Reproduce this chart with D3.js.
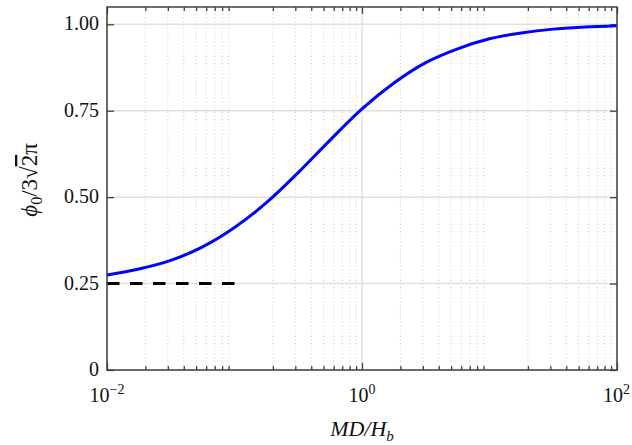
<!DOCTYPE html>
<html>
<head>
<meta charset="utf-8">
<script src="https://cdn.jsdelivr.net/npm/d3@7"></script>
<style>
  body { margin: 0; background: #fff; }
</style>
</head>
<body>
<svg class="chart" width="632" height="445" font-family="'Liberation Serif', 'Times New Roman', 'DejaVu Serif', serif"></svg>
<script>
// values
const mdOverHb = [0.01, 0.0178, 0.0316, 0.0562, 0.1, 0.178, 0.316, 0.562, 1, 1.78, 3.16, 5.62, 10, 17.8, 31.6, 56.2, 100]
const phiRatio = [0.275, 0.292, 0.317, 0.356, 0.412, 0.484, 0.571, 0.665, 0.755, 0.83, 0.889, 0.929, 0.958, 0.975, 0.986, 0.992, 0.996]
const limitX = [0.01, 0.1]
const limitY = [0.25, 0.25]
const yTicks = [0, 0.25, 0.5, 0.75, 1]
const yTickLabels = ['0', '0.25', '0.50', '0.75', '1.00']
const xTicks = [0.01, 1, 100]
const xTickExp = ['\u22122', '0', '2']

const serif = "'Liberation Serif', 'Times New Roman', 'DejaVu Serif', serif"
const svg = d3.select('.chart')
const margin = {left: 107, right: 15, top: 7, bottom: 75}
const width = +svg.attr('width')
const height = +svg.attr('height')

const x = d3.scaleLog().domain([0.01, 100]).range([margin.left, width - margin.right])
const y = d3.scaleLinear().domain([0, 1.05]).range([height - margin.bottom, margin.top])

// minor ticks 2..9 in each decade
const minorX = []
for (let e = -2; e < 2; e++) {
  for (let k = 2; k <= 9; k++) minorX.push(k * Math.pow(10, e))
}

const grid = svg.append('g')
grid.selectAll('.minor')
  .data(minorX)
  .join('line')
  .attr('x1', d => x(d)).attr('x2', d => x(d))
  .attr('y1', y(1.05)).attr('y2', y(0))
  .attr('stroke', '#c8c8c8')
  .attr('stroke-width', 1)
  .attr('stroke-dasharray', '1,2.5')

grid.selectAll('.majx')
  .data(xTicks)
  .join('line')
  .attr('x1', d => x(d)).attr('x2', d => x(d))
  .attr('y1', y(1.05)).attr('y2', y(0))
  .attr('stroke', '#e0e0e0')
  .attr('stroke-width', 1.5)

grid.selectAll('.majy')
  .data(yTicks)
  .join('line')
  .attr('x1', x(0.01)).attr('x2', x(100))
  .attr('y1', d => y(d)).attr('y2', d => y(d))
  .attr('stroke', '#e0e0e0')
  .attr('stroke-width', 1.5)

// axes, ticks pointing inward
const axisColor = '#404040'
function styleAxis(g) {
  g.select('.domain').remove()
  g.selectAll('.tick line').attr('stroke', axisColor).attr('stroke-width', 1.3)
  g.selectAll('.tick text').remove()
}
svg.append('g').attr('transform', `translate(0,${y(0)})`)
  .call(d3.axisBottom(x).tickValues(minorX).tickSize(-4)).call(styleAxis)
svg.append('g').attr('transform', `translate(0,${y(0)})`)
  .call(d3.axisBottom(x).tickValues(xTicks).tickSize(-7)).call(styleAxis)
svg.append('g').attr('transform', `translate(0,${y(1.05)})`)
  .call(d3.axisTop(x).tickValues(minorX).tickSize(-4)).call(styleAxis)
svg.append('g').attr('transform', `translate(0,${y(1.05)})`)
  .call(d3.axisTop(x).tickValues(xTicks).tickSize(-7)).call(styleAxis)
svg.append('g').attr('transform', `translate(${x(0.01)},0)`)
  .call(d3.axisLeft(y).tickValues(yTicks).tickSize(-7)).call(styleAxis)
svg.append('g').attr('transform', `translate(${x(100)},0)`)
  .call(d3.axisRight(y).tickValues(yTicks).tickSize(-7)).call(styleAxis)

// lines
const line = d3.line().x(d => x(d[0])).y(d => y(d[1])).curve(d3.curveMonotoneX)
svg.append('path')
  .attr('d', line(d3.zip(limitX, limitY)))
  .attr('fill', 'none')
  .attr('stroke', '#000')
  .attr('stroke-width', 3)
  .attr('stroke-dasharray', '12.5,10.5')

svg.append('path')
  .attr('d', line(d3.zip(mdOverHb, phiRatio)))
  .attr('fill', 'none')
  .attr('stroke', '#0000ff')
  .attr('stroke-width', 3)

// box
svg.append('rect')
  .attr('x', x(0.01)).attr('y', y(1.05))
  .attr('width', x(100) - x(0.01)).attr('height', y(0) - y(1.05))
  .attr('fill', 'none')
  .attr('stroke', axisColor)
  .attr('stroke-width', 1.5)

// tick labels
svg.selectAll('.ylab')
  .data(yTicks)
  .join('text')
  .attr('font-family', serif)
  .attr('x', x(0.01) - 8)
  .attr('y', d => y(d) + 6)
  .attr('text-anchor', 'end')
  .attr('font-size', 20)
  .attr('fill', '#111')
  .text((d, i) => yTickLabels[i])

const xl = svg.selectAll('.xlab')
  .data(xTicks)
  .join('text')
  .attr('font-family', serif)
  .attr('x', (d, i) => i === xTicks.length - 1 ? width - 2 : x(d))
  .attr('y', y(0) + 32)
  .attr('text-anchor', (d, i) => i === xTicks.length - 1 ? 'end' : 'middle')
  .attr('font-size', 20)
  .attr('fill', '#111')
xl.append('tspan').text('10')
xl.append('tspan').attr('dy', -8).attr('font-size', 14).text((d, i) => xTickExp[i])

// axis titles
const xt = svg.append('text')
  .attr('font-family', serif)
  .attr('x', x(1))
  .attr('y', 436)
  .attr('text-anchor', 'middle')
  .attr('font-size', 22)
  .attr('font-style', 'italic')
  .attr('fill', '#111')
xt.append('tspan').text('MD/H')
xt.append('tspan').attr('dy', 5).attr('font-size', 15).text('b')

const yt = svg.append('text')
  .attr('font-family', serif)
  .attr('transform', `translate(37,180) rotate(-90)`)
  .attr('text-anchor', 'middle')
  .attr('font-size', 23)
  .attr('fill', '#111')
yt.append('tspan').attr('font-style', 'italic').text('\u03d5')
yt.append('tspan').attr('dy', 5).attr('font-size', 16).text('0')
yt.append('tspan').attr('dy', -5).text('/3\u221a')
yt.append('tspan').style('text-decoration', 'overline').text('2')
yt.append('tspan').text('\u03c0')
</script>
</body>
</html>
